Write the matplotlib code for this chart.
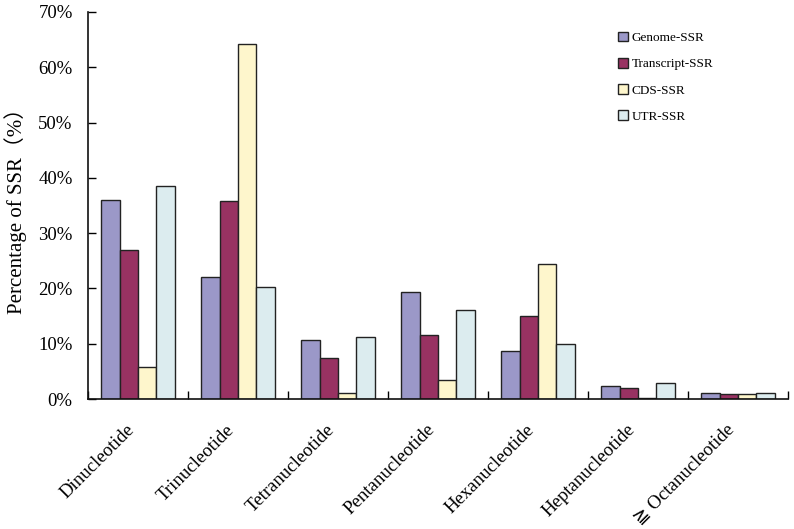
import matplotlib
matplotlib.use("Agg")
import matplotlib.pyplot as plt
import numpy as np

categories = ["Dinucleotide", "Trinucleotide", "Tetranucleotide", "Pentanucleotide",
              "Hexanucleotide", "Heptanucleotide", "\u2267 Octanucleotide"]
series_names = ["Genome-SSR", "Transcript-SSR", "CDS-SSR", "UTR-SSR"]
genome = [36.0, 22.0, 10.7, 19.3, 8.6, 2.4, 1.0]
transcript = [26.9, 35.9, 7.5, 11.6, 15.1, 1.9, 0.85]
cds = [5.8, 64.3, 1.0, 3.4, 24.5, 0.2, 0.85]
utr = [38.6, 20.3, 11.3, 16.1, 9.9, 2.9, 1.1]
yticks = [0, 10, 20, 30, 40, 50, 60, 70]
ytick_labels = ["0%", "10%", "20%", "30%", "40%", "50%", "60%", "70%"]

colors = ["#9b98c8", "#983262", "#fef6cc", "#dcecef"]
fam = ["Liberation Serif", "DejaVu Sans", "Noto Sans CJK SC"]
plt.rcParams["font.family"] = fam

fig = plt.figure(figsize=(7.94, 5.29), dpi=100)
ax = fig.add_axes([88/794, 1-399/529, 700/794, 387/529])

x = np.arange(len(categories))
w = 0.183
data = [genome, transcript, cds, utr]
for i, (vals, c, name) in enumerate(zip(data, colors, series_names)):
    ax.bar(x + (i - 1.5) * w, vals, width=w, color=c, edgecolor="#222222",
           linewidth=1.0, label=name, zorder=2)

ax.set_xlim(-0.5, len(categories) - 0.5)
ax.set_ylim(0, 70)
ax.set_yticks(yticks)
ax.set_yticklabels(ytick_labels, fontsize=13.5)
ax.tick_params(axis="y", direction="in", length=6, width=1, pad=11)
ax.set_xticks(x - 0.12)
ax.set_xticklabels(categories, rotation=45, ha="right", rotation_mode="anchor",
                   fontsize=13.5)
ax.tick_params(axis="x", which="major", length=0, pad=16)
ax.set_xticks(np.arange(-0.5, len(categories) + 0.5, 1), minor=True)
ax.tick_params(axis="x", which="minor", direction="in", length=6, width=1)
for s in ["top", "right"]:
    ax.spines[s].set_visible(False)
for s in ["left", "bottom"]:
    ax.spines[s].set_linewidth(1.2)
    ax.spines[s].set_color("#111111")

ax.set_ylabel("Percentage of SSR\uff08%\uff09", fontsize=15, labelpad=8)

leg = ax.legend(loc="upper left", bbox_to_anchor=(0.74, 0.98), frameon=False,
                fontsize=9.5, handlelength=0.75, handleheight=0.75,
                handletextpad=0.3, labelspacing=1.05)
for h in leg.legend_handles:
    h.set_edgecolor("#222222")
    h.set_linewidth(1.0)

fig.savefig("out.png", dpi=100)
